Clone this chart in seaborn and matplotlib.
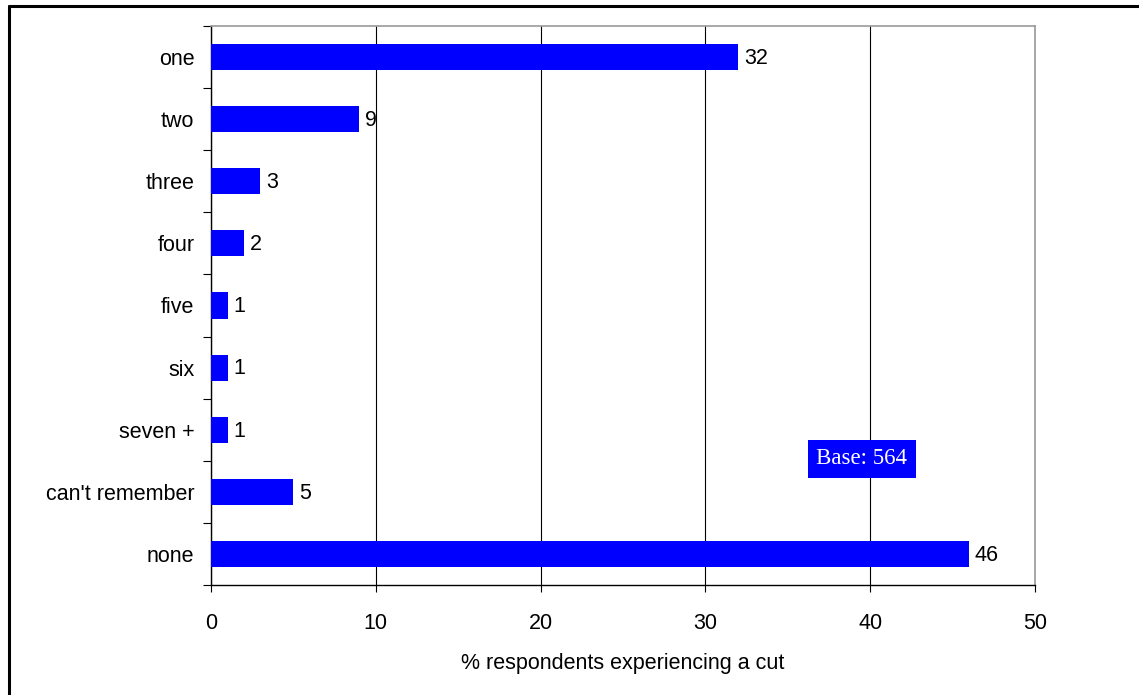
import matplotlib
matplotlib.use("Agg")
import matplotlib.pyplot as plt
import seaborn as sns
import pandas as pd
from matplotlib.lines import Line2D

categories = ['one', 'two', 'three', 'four', 'five', 'six', 'seven +',
              "can't remember", 'none']
values = [32, 9, 3, 2, 1, 1, 1, 5, 46]

df = pd.DataFrame({'category': categories, 'pct': values})

sns.set_theme(style='white')
plt.rcParams['font.family'] = ['Liberation Sans', 'DejaVu Sans']
plt.rcParams['text.color'] = 'black'
plt.rcParams['xtick.color'] = 'black'
plt.rcParams['ytick.color'] = 'black'
plt.rcParams['axes.labelcolor'] = 'black'

fig = plt.figure(figsize=(11.39, 6.95), dpi=100)
ax = fig.add_axes([0.1853, 0.1583, 0.7234, 0.8043])

sns.barplot(data=df, x='pct', y='category', orient='h', color='#0000FF',
            saturation=1, width=0.42, linewidth=0, ax=ax, zorder=3)

ax.set_xlim(0, 50)
ax.set_ylim(len(categories) - 0.5, -0.5)
ax.set_xticks([0, 10, 20, 30, 40, 50])
ax.xaxis.grid(True, color='black', linewidth=0.8)
ax.set_axisbelow(True)

# value labels
for i, v in enumerate(values):
    ax.annotate(str(v), xy=(v, i), xytext=(4, -1), textcoords='offset points',
                ha='left', va='center', fontsize=15.5, color='black')

ax.set_ylabel('')
ax.set_xlabel('% respondents experiencing a cut', fontsize=15.5, labelpad=14)
ax.tick_params(axis='x', labelsize=15.5, length=5, width=0.8, color='black',
               direction='out', bottom=True, pad=15)
ax.tick_params(axis='y', labelsize=15.5, length=0, pad=12)

# ticks at category boundaries on the y axis
ax.set_yticks([i + 0.5 for i in range(-1, len(categories))], minor=True)
ax.tick_params(axis='y', which='minor', length=6, width=0.8, color='black',
               direction='out', left=True)

for side in ['top', 'right']:
    ax.spines[side].set_color('#999999')
    ax.spines[side].set_linewidth(1.2)
for side in ['left', 'bottom']:
    ax.spines[side].set_color('black')
    ax.spines[side].set_linewidth(1.0)

ax.text(0.79, 0.2254, 'Base: 564', transform=ax.transAxes, ha='center',
        va='center', fontsize=16.5, color='white', family='Liberation Serif',
        bbox=dict(boxstyle='square,pad=0.35', facecolor='#0000FF',
                  edgecolor='none'), zorder=5)

# outer frame (top and left edges visible)
fig.add_artist(Line2D([0.0075, 1.0], [0.9914, 0.9914], color='black',
                      linewidth=2.2, transform=fig.transFigure))
fig.add_artist(Line2D([0.0075, 0.0075], [0.0, 0.9914], color='black',
                      linewidth=2.2, transform=fig.transFigure))

fig.savefig('out.png', dpi=100)
